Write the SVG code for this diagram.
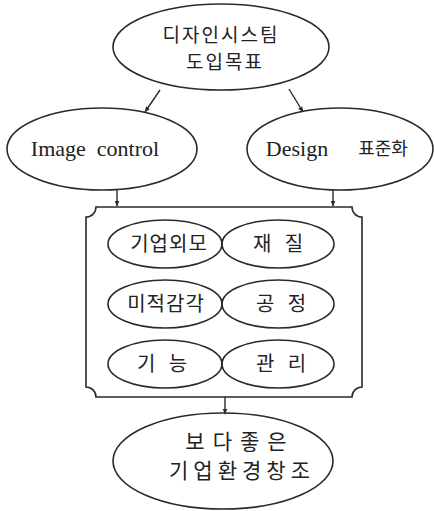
<svg xmlns="http://www.w3.org/2000/svg" width="434" height="511" viewBox="0 0 434 511">
<style>
.sh{fill:none;stroke:#2a2a2a;stroke-width:1.6}
.t{font-family:"Liberation Serif","Noto Sans CJK KR",serif;fill:#222;text-anchor:middle}
.k{font-family:"Noto Sans CJK KR","Liberation Serif",sans-serif;fill:#222;text-anchor:middle;font-weight:400}
.c{stroke:#2a2a2a;stroke-width:1.4;fill:none;marker-end:url(#ah)}
</style>
<defs>
<marker id="ah" viewBox="0 0 10 10" refX="9" refY="5" markerWidth="6" markerHeight="6" orient="auto" markerUnits="userSpaceOnUse">
<path d="M0,1 L10,5 L0,9 Z" fill="#2a2a2a"/>
</marker>
</defs>
<rect width="434" height="511" fill="#fff"/>
<g id="connectors">
<line class="c" x1="160" y1="90" x2="145" y2="112"/>
<line class="c" x1="289" y1="89" x2="303" y2="112"/>
<line class="c" x1="117" y1="190" x2="117" y2="206"/>
<line class="c" x1="333" y1="190" x2="333" y2="206"/>
<line class="c" x1="225" y1="397" x2="225" y2="414"/>
</g>
<g id="goal">
<ellipse class="sh" cx="221" cy="47" rx="108" ry="43"/>
<text class="k" x="221" y="42" font-size="19" letter-spacing="2">디자인시스팀</text>
<text class="k" x="225" y="69" font-size="19" letter-spacing="2">도입목표</text>
</g>
<g id="image-control">
<ellipse class="sh" cx="102" cy="149" rx="95" ry="41"/>
<text class="t" x="95" y="156" font-size="22" xml:space="preserve">Image  control</text>
</g>
<g id="design">
<ellipse class="sh" cx="340" cy="149" rx="93" ry="41"/>
<text class="t" x="297" y="156" font-size="22">Design</text>
<text class="k" x="383" y="155" font-size="18">표준화</text>
</g>
<g id="frame">
<path class="sh" d="M96,207 H352 A10,10 0 0 0 362,217 V387 A10,10 0 0 0 352,397 H96 A10,10 0 0 0 86,387 V217 A10,10 0 0 0 96,207 Z"/>
</g>
<g id="n1">
<ellipse class="sh" cx="165" cy="244" rx="57" ry="24"/>
<text class="k" x="169" y="251" font-size="20" letter-spacing="1">기업외모</text>
</g>
<g id="n2">
<ellipse class="sh" cx="278" cy="244" rx="56" ry="24"/>
<text class="k" x="278" y="251" font-size="20" xml:space="preserve">재   질</text>
</g>
<g id="n3">
<ellipse class="sh" cx="165" cy="304" rx="57" ry="24"/>
<text class="k" x="166" y="311" font-size="20" letter-spacing="1">미적감각</text>
</g>
<g id="n4">
<ellipse class="sh" cx="278" cy="304" rx="56" ry="24"/>
<text class="k" x="281" y="311" font-size="20" xml:space="preserve">공   정</text>
</g>
<g id="n5">
<ellipse class="sh" cx="165" cy="364" rx="57" ry="24"/>
<text class="k" x="162" y="371" font-size="20" xml:space="preserve">기   능</text>
</g>
<g id="n6">
<ellipse class="sh" cx="278" cy="364" rx="56" ry="24"/>
<text class="k" x="281" y="371" font-size="20" xml:space="preserve">관   리</text>
</g>
<g id="result">
<ellipse class="sh" cx="223" cy="461" rx="110" ry="48"/>
<text class="k" x="240" y="449" font-size="21" letter-spacing="8">보다좋은</text>
<text class="k" x="242" y="478" font-size="21" letter-spacing="5">기업환경창조</text>
</g>
</svg>
